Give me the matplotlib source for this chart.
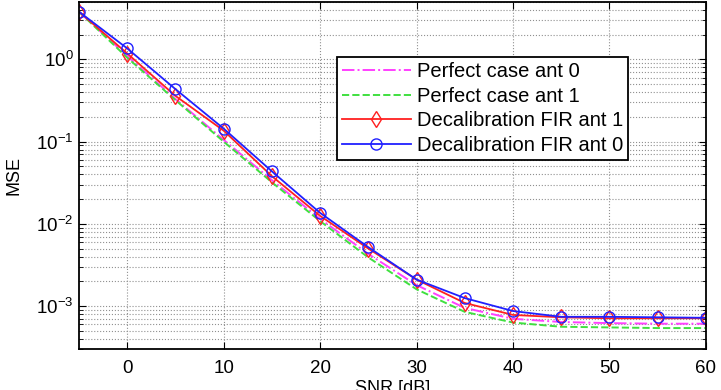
import numpy as np
import matplotlib.pyplot as plt
from matplotlib.ticker import LogLocator, NullFormatter

plt.rcParams['font.family'] = ['Liberation Sans', 'DejaVu Sans']
plt.rcParams['mathtext.default'] = 'regular'

snr = [-5, 0, 5, 10, 15, 20, 25, 30, 35, 40, 45, 50, 55, 60]

# MSE values
perfect_ant0 = [3.8, 1.1, 0.33, 0.105, 0.034, 0.0115, 0.0043, 0.0018, 0.00095, 0.00070,
                0.00064, 0.00062, 0.00061, 0.00061]
perfect_ant1 = [3.8, 1.05, 0.32, 0.100, 0.032, 0.0108, 0.0039, 0.0016, 0.00085, 0.00063,
                0.00056, 0.00055, 0.00054, 0.00054]
decal_ant1 = [3.8, 1.18, 0.36, 0.136, 0.038, 0.0125, 0.0050, 0.0021, 0.00109, 0.00078,
              0.00073, 0.00071, 0.00071, 0.00071]
decal_ant0 = [3.8, 1.36, 0.435, 0.144, 0.0435, 0.0136, 0.0052, 0.0021, 0.00125, 0.00087,
              0.00074, 0.00074, 0.00073, 0.00072]

fig = plt.figure(figsize=(7.21, 3.90), dpi=100)
ax = fig.add_axes([0.1096, 0.105, 0.8694, 0.89])

ax.semilogy(snr, perfect_ant0, '-.', color='#ff40ff', linewidth=1.4, label='Perfect case ant 0')
ax.semilogy(snr, perfect_ant1, '--', color='#40e040', linewidth=1.4, label='Perfect case ant 1')
ax.semilogy(snr, decal_ant1, '-', color='#ff2020', marker='d', markersize=8,
            markerfacecolor='none', linewidth=1.3, label='Decalibration FIR ant 1')
ax.semilogy(snr, decal_ant0, '-', color='#2020ff', marker='o', markersize=8,
            markerfacecolor='none', linewidth=1.3, label='Decalibration FIR ant 0')

ax.set_xlim(-5, 60)
ax.set_ylim(3e-4, 5)
ax.set_xticks([0, 10, 20, 30, 40, 50, 60])
ax.yaxis.set_major_locator(LogLocator(base=10, numticks=10))
ax.yaxis.set_minor_locator(LogLocator(base=10, subs=np.arange(2, 10), numticks=10))
ax.yaxis.set_minor_formatter(NullFormatter())

ax.grid(True, which='major', axis='both', linestyle=':', color='#909090', linewidth=0.8)
ax.grid(True, which='minor', axis='y', linestyle=':', color='#909090', linewidth=0.8)

ax.tick_params(which='both', direction='in', top=True, right=True, labelsize=13.5)
ax.tick_params(which='major', length=5)
ax.tick_params(which='minor', length=3)
ax.tick_params(axis='x', pad=8)
ax.tick_params(axis='y', pad=4)
for s in ax.spines.values():
    s.set_linewidth(1.3)

ax.set_xlabel('SNR [dB]', fontsize=13, labelpad=2)
ax.set_ylabel('MSE', fontsize=13, labelpad=10)

leg = ax.legend(loc='upper right', bbox_to_anchor=(0.8756, 0.841), fontsize=14.5,
                frameon=True, fancybox=False, edgecolor='black', framealpha=1,
                handlelength=3.4, borderpad=0.25, labelspacing=0.28, handletextpad=0.3,
                borderaxespad=0)
leg.get_frame().set_linewidth(1.3)

fig.savefig('out.png', dpi=100)
